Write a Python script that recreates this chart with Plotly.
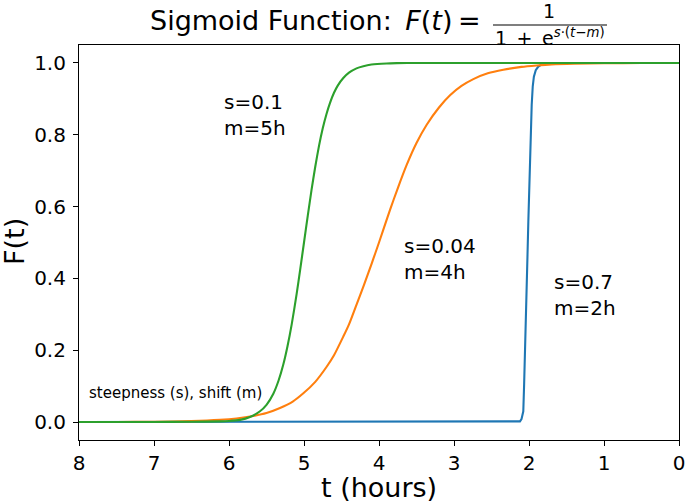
import plotly.graph_objects as go

# ---- data ----
t_blue = [8, 6, 4, 3, 2.4, 2.2, 2.14, 2.12, 2.10, 2.085, 2.076, 2.065, 2.053, 2.042, 2.031,
          2.02, 2.009, 1.998, 1.987, 1.976, 1.964, 1.95, 1.935, 1.91, 1.876, 1.83, 1.75,
          1.6, 1.0, 0]
F_blue = [0, 0, 0, 0, 0, 0, 0.0005, 0.002, 0.008, 0.018, 0.03, 0.105, 0.187, 0.28, 0.373,
          0.465, 0.558, 0.65, 0.744, 0.82, 0.883, 0.935, 0.962, 0.98, 0.99, 0.996, 0.999,
          1.0, 1.0, 1.0]

t_orange = [8, 7.5, 7, 6.5, 6.12, 5.9, 5.676, 5.5, 5.32, 5.15, 5.009, 4.85, 4.698, 4.6,
            4.476, 4.4, 4.298, 4.2, 4.1, 4.053, 4.0, 3.95, 3.853, 3.75, 3.631, 3.5, 3.364,
            3.2, 3.053, 2.9, 2.742, 2.55, 2.342, 2.1, 1.898, 1.7, 1.4, 1.0, 0.5, 0]
F_orange = [0.0001, 0.0003, 0.0008, 0.0025, 0.006, 0.01, 0.017, 0.025, 0.039, 0.057, 0.08,
            0.112, 0.154, 0.186, 0.238, 0.272, 0.328, 0.382, 0.44, 0.468, 0.5, 0.531, 0.591,
            0.651, 0.716, 0.777, 0.828, 0.876, 0.91, 0.936, 0.955, 0.971, 0.981, 0.989,
            0.993, 0.996, 0.998, 0.9993, 0.9998, 1.0]

t_green = [8, 7, 6.5, 6.12, 6.0, 5.853, 5.72, 5.587, 5.5, 5.409, 5.34, 5.276, 5.22, 5.164,
           5.098, 5.05, 5.0, 4.95, 4.9, 4.85, 4.8, 4.75, 4.7, 4.653, 4.6, 4.55, 4.476, 4.4,
           4.3, 4.209, 4.1, 3.9, 3.764, 3.5, 3, 2, 1, 0]
F_green = [0, 0.0001, 0.0008, 0.002, 0.003, 0.006, 0.014, 0.03, 0.048, 0.079, 0.115, 0.16,
           0.211, 0.272, 0.357, 0.426, 0.5, 0.574, 0.646, 0.711, 0.769, 0.818, 0.858, 0.889,
           0.917, 0.937, 0.958, 0.973, 0.985, 0.991, 0.9955, 0.9986, 0.9994, 1.0, 1.0, 1.0,
           1.0, 1.0]

x_ticks = [8, 7, 6, 5, 4, 3, 2, 1, 0]
y_ticks = [0.0, 0.2, 0.4, 0.6, 0.8, 1.0]

labels = ["s=0.1<br>m=5h", "s=0.04<br>m=4h", "s=0.7<br>m=2h"]
label_t = [6.093, 3.69, 1.69]
label_F = [0.854, 0.454, 0.354]
note = "steepness (s), shift (m)"

FONT = "DejaVu Sans"
W, H = 685, 503
L, R, T, B = 79, 6, 45, 63
PW, PH = W - L - R, H - T - B


def px(xp):
    return (xp - L) / PW


def py(yp):
    return (H - B - yp) / PH


def paper_text(xp, yp, text, size, xanchor="center", angle=0):
    return dict(x=px(xp), y=py(yp), xref="paper", yref="paper", text=text,
                showarrow=False, xanchor=xanchor, yanchor="middle", textangle=angle,
                font=dict(family=FONT, size=size, color="black"))


fig = go.Figure()
fig.add_trace(go.Scatter(x=t_blue, y=F_blue, mode="lines",
                         line=dict(color="#1f77b4", width=2.1), showlegend=False))
fig.add_trace(go.Scatter(x=t_orange, y=F_orange, mode="lines",
                         line=dict(color="#ff7f0e", width=2.1, shape="spline",
                                   smoothing=0.6), showlegend=False))
fig.add_trace(go.Scatter(x=t_green, y=F_green, mode="lines",
                         line=dict(color="#2ca02c", width=2.1, shape="spline",
                                   smoothing=0.6), showlegend=False))

annotations = []
for txt, xt, yf in zip(labels, label_t, label_F):
    annotations.append(dict(x=xt, y=yf, xref="x", yref="y", text=txt, showarrow=False,
                            xanchor="left", yanchor="middle", align="left",
                            font=dict(family=FONT, size=20, color="black")))
annotations.append(dict(x=7.89, y=0.081, xref="x", yref="y", text=note, showarrow=False,
                        xanchor="left", yanchor="middle",
                        font=dict(family=FONT, size=15, color="black")))

# Title: "Sigmoid Function: F(t) = 1 / (1 + e^{s·(t−m)})"
annotations.append(paper_text(148, 21, "Sigmoid Function:\u2002<i>F</i>(<i>t</i>)", 27,
                              xanchor="left"))
annotations.append(paper_text(470, 21, "=", 27))
annotations.append(paper_text(549, 11, "1", 19))
annotations.append(paper_text(550, 37,
                              "1\u2002+\u2002e<sup><i>s</i>·(<i>t</i>−<i>m</i>)</sup>", 19))
# axis titles
annotations.append(paper_text(379, 487, "t (hours)", 27))
annotations.append(paper_text(14, 242, "F(t)", 27, angle=-90))

fig.update_layout(
    width=W, height=H,
    margin=dict(l=L, r=R, t=T, b=B),
    paper_bgcolor="white", plot_bgcolor="white",
    font=dict(family=FONT, color="black"),
    annotations=annotations,
    shapes=[dict(type="line", xref="paper", yref="paper",
                 x0=px(493), x1=px(607), y0=py(25), y1=py(25),
                 line=dict(color="black", width=1.2))],
)
fig.update_xaxes(range=[8, 0], tickvals=x_ticks, ticktext=[str(v) for v in x_ticks],
                 automargin=False, ticklabeloverflow="allow",
                 showgrid=False, zeroline=False, showline=True, mirror=True,
                 linecolor="black", linewidth=1.1, ticks="outside", ticklen=5,
                 tickwidth=1.1, tickcolor="black",
                 tickfont=dict(family=FONT, size=20, color="black"))
fig.update_yaxes(range=[-0.05, 1.05], tickvals=y_ticks,
                 ticktext=[f"{v:.1f}" for v in y_ticks], automargin=False,
                 ticklabeloverflow="allow",
                 showgrid=False, zeroline=False, showline=True, mirror=True,
                 linecolor="black", linewidth=1.1, ticks="outside", ticklen=5,
                 tickwidth=1.1, tickcolor="black", ticklabelstandoff=3,
                 tickfont=dict(family=FONT, size=20, color="black"))

fig.write_html("out.html", config={"displayModeBar": False},
               post_script="document.body.style.margin='0';")
